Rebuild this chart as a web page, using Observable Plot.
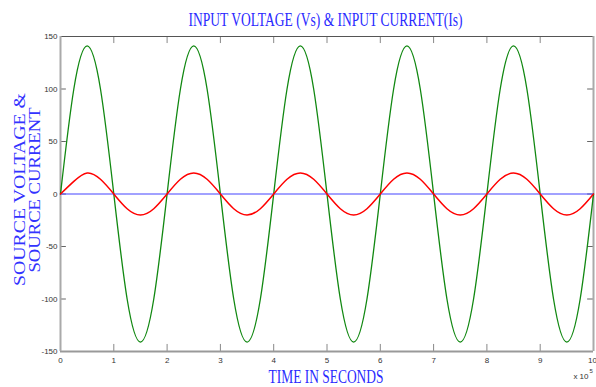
<!DOCTYPE html>
<html><head><meta charset="utf-8">
<script src="https://cdn.jsdelivr.net/npm/d3@7"></script>
<script src="https://cdn.jsdelivr.net/npm/@observablehq/plot@0.6"></script>
<style>body{margin:0;background:#fff}</style>
</head><body><div id="chart"></div>
<script>
const time = [0,0.25,0.5,0.75,1,1.25,1.5,1.75,2,2.25,2.5,2.75,3,3.25,3.5,3.75,4,4.25,4.5,4.75,5,5.25,5.5,5.75,6,6.25,6.5,6.75,7,7.25,7.5,7.75,8,8.25,8.5,8.75,9,9.25,9.5,9.75,10];
const voltage = [0,100,141,100,0,-100,-141,-100,
                 0,100,141,100,0,-100,-141,-100,
                 0,100,141,100,0,-100,-141,-100,
                 0,100,141,100,0,-100,-141,-100,
                 0,100,141,100,0,-100,-141,-100,
                 0];
const current = [0,12,20,14,0,-14,-20,-14,
                 0,14,20,14,0,-14,-20,-14,
                 0,14,20,14,0,-14,-20,-14,
                 0,14,20,14,0,-14,-20,-14,
                 0,14,20,14,0,-14,-20,-14,
                 0];
const zeroLine = [0, 0];
const zeroTime = [0, 10];
const xTicks = [0,1,2,3,4,5,6,7,8,9,10];
const xTickLabels = ["0","1","2","3","4","5","6","7","8","9"];
const lastXTick = "10";
const yTicks = [-150,-100,-50,0,50,100,150];
const titleText = "INPUT VOLTAGE (Vs) & INPUT CURRENT(Is)";
const xLabel = "TIME IN SECONDS";
const yLabel1 = "SOURCE VOLTAGE &";
const yLabel2 = "SOURCE CURRENT";
const expText = "x 10";
const expPow = "5";

const rows = time.map((t, i) => ({t, v: voltage[i], c: current[i]}));
const zeroRows = zeroTime.map((t, i) => ({t, z: zeroLine[i]}));
const serif = "'Liberation Serif', 'Times New Roman', serif";

const chart = Plot.plot({
  width: 596, height: 387,
  marginLeft: 60, marginRight: 3, marginTop: 36, marginBottom: 36,
  x: {domain: [0, 10]},
  y: {domain: [-150, 150]},
  style: {background: "#fff", fontFamily: "'Liberation Sans', Arial, sans-serif"},
  marks: [
    Plot.axisX(xTicks.slice(0, 10), {tickSize: 0, tickPadding: 6, fontSize: 8, fill: "#333", label: null,
      tickFormat: (d, i) => xTickLabels[i]}),
    Plot.axisY(yTicks, {tickSize: 0, tickPadding: 3, fontSize: 8, fill: "#333", label: null,
      tickFormat: d => String(d)}),
    Plot.text([lastXTick], {text: d => d, frameAnchor: "bottom-right", dx: -1, dy: 6, lineAnchor: "top",
      textAnchor: "middle", fontSize: 8, fill: "#333"}),
    Plot.ruleX(xTicks, {y1: -150, y2: -143.3, stroke: "#888"}),
    Plot.ruleX(xTicks, {y1: 150, y2: 143.3, stroke: "#888"}),
    Plot.ruleY(yTicks, {x1: 0, x2: 0.11, stroke: "#666"}),
    Plot.ruleY(yTicks, {x1: 10, x2: 9.89, stroke: "#666"}),
    Plot.ruleY([150], {stroke: "#555", strokeWidth: 1}),
    Plot.ruleY([-150], {stroke: "#999", strokeWidth: 2}),
    Plot.ruleX([0, 10], {stroke: "#aaa", strokeWidth: 2}),
    Plot.line(rows, {x: "t", y: "v", stroke: "#118811", strokeWidth: 1.3, curve: "natural"}),
    Plot.line(zeroRows, {x: "t", y: "z", stroke: "#4444ff", strokeWidth: 1.2}),
    Plot.line(rows, {x: "t", y: "c", stroke: "#ff0000", strokeWidth: 1.5, curve: "natural"}),
    Plot.text([titleText], {text: d => d, frameAnchor: "top", dx: -1.5, dy: -11, lineAnchor: "bottom",
      textAnchor: "middle", fontSize: 19, fontFamily: serif, fill: "#2a2aff", className: "ttl-main"}),
    Plot.text([xLabel], {text: d => d, frameAnchor: "bottom", dx: -1, dy: 31, lineAnchor: "bottom",
      textAnchor: "middle", fontSize: 19, fontFamily: serif, fill: "#2a2aff", className: "ttl-x"}),
    Plot.text([yLabel1], {text: d => d, frameAnchor: "left", dx: -36, dy: -4.5, lineAnchor: "bottom", rotate: -90,
      textAnchor: "middle", fontSize: 16, fontFamily: serif, fill: "#3333ff", className: "ttl-y1"}),
    Plot.text([yLabel2], {text: d => d, frameAnchor: "left", dx: -21, dy: -4, lineAnchor: "bottom", rotate: -90,
      textAnchor: "middle", fontSize: 16, fontFamily: serif, fill: "#3333ff", className: "ttl-y2"}),
    Plot.text([expText], {text: d => d, frameAnchor: "bottom-right", dx: -5, dy: 27, lineAnchor: "bottom", textAnchor: "end",
      fontSize: 8, fill: "#333"}),
    Plot.text([expPow], {text: d => d, frameAnchor: "bottom-right", dx: -4, dy: 21, lineAnchor: "bottom", textAnchor: "start",
      fontSize: 6, fill: "#333"})
  ]
});

function squeeze(cls, len) {
  chart.querySelectorAll("." + cls + " text").forEach(t => {
    t.setAttribute("textLength", len);
    t.setAttribute("lengthAdjust", "spacingAndGlyphs");
  });
}
squeeze("ttl-main", 274);
squeeze("ttl-x", 115);
squeeze("ttl-y1", 193);
squeeze("ttl-y2", 165);

document.getElementById("chart").appendChild(chart);
</script>
</body></html>
